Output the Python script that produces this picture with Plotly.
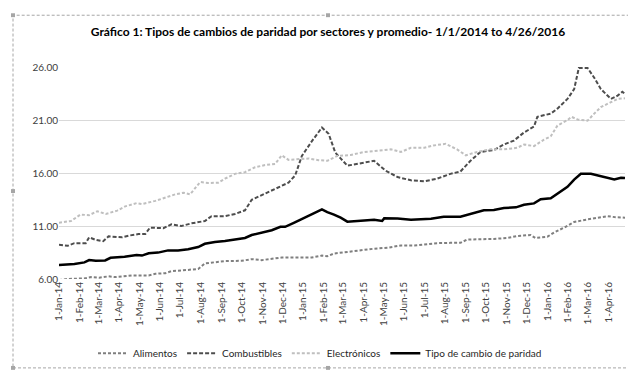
import pandas as pd
import plotly.graph_objects as go

# ---------------- data (days since 2014-01-01, values) ----------------
tipo_days = [0, 23, 38, 45, 55, 69, 77, 98, 116, 124, 134, 148, 163, 178, 193, 208, 218, 233, 248, 263,
             278, 288, 303, 318, 331, 338, 351, 366, 381, 393, 401, 411, 421, 431, 446, 471, 483, 486,
             506, 526, 556, 575, 600, 620, 635, 650, 665, 683, 695, 710, 720, 735, 745, 760, 770, 780,
             795, 815, 830, 840, 846]
tipo_vals = [7.32, 7.41, 7.57, 7.78, 7.72, 7.75, 8.0, 8.09, 8.27, 8.21, 8.43, 8.49, 8.70, 8.70, 8.80, 9.01,
             9.32, 9.50, 9.59, 9.72, 9.87, 10.15, 10.39, 10.6, 10.92, 10.92, 11.3, 11.78, 12.24, 12.57,
             12.3, 12.08, 11.78, 11.41, 11.47, 11.59, 11.47, 11.72, 11.71, 11.59, 11.68, 11.87, 11.87,
             12.24, 12.48, 12.51, 12.70, 12.76, 13.0, 13.13, 13.53, 13.62, 14.02, 14.69, 15.37, 15.92,
             15.92, 15.62, 15.4, 15.55, 15.52]

comb_days = [0, 13, 23, 40, 45, 55, 66, 74, 94, 104, 119, 129, 136, 156, 168, 183, 198, 218, 228, 248,
             263, 278, 288, 303, 323, 343, 353, 363, 378, 393, 403, 413, 431, 446, 471, 488, 506, 526,
             546, 565, 585, 600, 615, 630, 650, 665, 680, 695, 710, 715, 735, 745, 760, 770, 777, 790,
             800, 810, 825, 835, 842, 846]
comb_vals = [9.23, 9.13, 9.38, 9.38, 9.93, 9.69, 9.56, 10.02, 9.93, 10.09, 10.24, 10.24, 10.85, 10.79,
             11.16, 11.0, 11.25, 11.47, 11.93, 11.93, 12.14, 12.48, 13.47, 13.93, 14.48, 15.09, 15.77,
             17.61, 19.0, 20.29, 19.7, 17.92, 16.69, 16.85, 17.15, 16.23, 15.62, 15.31, 15.22, 15.46,
             15.92, 16.14, 17.15, 17.98, 18.17, 18.69, 19.06, 19.82, 20.38, 21.3, 21.6, 22.07, 22.99,
             23.91, 25.91, 25.91, 24.99, 23.91, 22.99, 23.3, 23.67, 23.45]

elec_days = [0, 18, 32, 45, 57, 70, 87, 99, 116, 124, 144, 159, 174, 186, 196, 211, 223, 238, 248, 263,
             278, 293, 308, 323, 333, 343, 358, 373, 388, 401, 416, 436, 456, 481, 496, 511, 526, 546,
             560, 578, 595, 608, 625, 645, 665, 685, 695, 710, 725, 735, 745, 760, 766, 775, 790, 800,
             810, 825, 835, 846]
elec_vals = [11.31, 11.47, 12.08, 12.02, 12.39, 12.14, 12.45, 12.85, 13.16, 13.07, 13.37, 13.71, 13.99,
             14.14, 13.99, 15.15, 15.06, 15.09, 15.46, 15.92, 16.08, 16.54, 16.75, 16.85, 17.67, 17.24,
             17.31, 17.37, 17.21, 17.15, 17.61, 17.7, 17.98, 18.17, 18.23, 17.98, 18.38, 18.38, 18.6,
             18.75, 18.23, 17.67, 17.98, 18.23, 18.23, 18.38, 18.69, 18.54, 19.15, 19.46, 20.47, 20.99,
             21.3, 21.05, 20.93, 21.6, 22.22, 22.68, 22.99, 23.05]

alim_days = [0, 13, 38, 48, 60, 74, 84, 109, 134, 144, 159, 168, 193, 208, 218, 238, 248, 273, 288, 303,
             318, 333, 363, 378, 393, 401, 411, 426, 446, 471, 491, 511, 531, 546, 565, 585, 600, 610,
             630, 650, 670, 685, 705, 712, 730, 740, 755, 770, 790, 805, 820, 830, 846]
alim_vals = [5.9, 6.0, 6.06, 6.18, 6.12, 6.25, 6.18, 6.34, 6.34, 6.49, 6.55, 6.74, 6.86, 6.95, 7.47, 7.57,
             7.69, 7.72, 7.87, 7.78, 7.94, 8.03, 8.03, 8.03, 8.21, 8.15, 8.40, 8.52, 8.70, 8.86, 8.95,
             9.16, 9.16, 9.26, 9.38, 9.41, 9.41, 9.72, 9.72, 9.78, 9.87, 10.06, 10.15, 9.87, 9.99, 10.39,
             10.85, 11.38, 11.62, 11.78, 11.93, 11.84, 11.78]

series_names = ["Alimentos", "Combustibles", "Electrónicos", "Tipo de cambio de paridad"]
y_ticks = [6, 11, 16, 21, 26]
start_date = "2014-01-01"
end_date = "2016-04-26"

title_text = "Gráfico 1: Tipos de cambios de paridad por sectores y promedio- 1/1/2014 to 4/26/2016"


def to_dates(days):
    return pd.Timestamp(start_date) + pd.to_timedelta(days, unit="D")


FONT = "Lato, sans-serif"

fig = go.Figure()
fig.add_trace(go.Scatter(x=to_dates(alim_days), y=alim_vals, name=series_names[0], mode="lines",
                         line=dict(color="#7f7f7f", width=2, dash="3px,2px")))
fig.add_trace(go.Scatter(x=to_dates(comb_days), y=comb_vals, name=series_names[1], mode="lines",
                         line=dict(color="#4d4d4d", width=2, dash="4px,2px")))
fig.add_trace(go.Scatter(x=to_dates(elec_days), y=elec_vals, name=series_names[2], mode="lines",
                         line=dict(color="#bfbfbf", width=2, dash="3px,2px")))
fig.add_trace(go.Scatter(x=to_dates(tipo_days), y=tipo_vals, name=series_names[3], mode="lines",
                         line=dict(color="#000000", width=2.5)))

W, H = 636, 372
L, R, T, B = 51, 19, 59, 96
pw, ph = W - L - R, H - T - B


def px(xp):
    return (xp - L) / pw


def py(yp):
    return (H - B - yp) / ph


shapes = [dict(type="rect", xref="paper", yref="paper", x0=px(5), x1=px(632), y0=py(367), y1=py(6),
               line=dict(color="#a6a6a6", width=1, dash="3px,2px"), fillcolor="rgba(0,0,0,0)", layer="below")]
for hx, hy in [(5, 6), (320, 6), (632, 6), (5, 186), (632, 186), (5, 367), (320, 367), (632, 367)]:
    shapes.append(dict(type="rect", xref="paper", yref="paper", x0=px(hx - 2), x1=px(hx + 2),
                       y0=py(hy + 2), y1=py(hy - 2), line=dict(width=0), fillcolor="#a6a6a6"))

fig.update_layout(
    width=W, height=H,
    margin=dict(l=L, r=R, t=T, b=B),
    paper_bgcolor="white", plot_bgcolor="white",
    title=dict(text="<b>" + title_text + "</b>", x=px(320), xref="paper", xanchor="center",
               y=1 - 24 / H, yanchor="middle", font=dict(family=FONT, size=12, color="#000000")),
    font=dict(family=FONT, size=10, color="#595959"),
    shapes=shapes,
    showlegend=True,
    legend=dict(orientation="h", x=px(312), xanchor="center", y=py(352), yanchor="middle",
                font=dict(family=FONT, size=10, color="#262626"), itemwidth=30,
                bgcolor="rgba(0,0,0,0)"),
    xaxis=dict(type="date", range=[start_date, end_date], tick0=start_date, dtick="M1",
               tickformat="%-d-%b-%y", tickangle=-90, showgrid=False, showline=False,
               ticks="", tickfont=dict(family=FONT, size=10, color="#404040")),
    yaxis=dict(range=[6, 26], tickvals=y_ticks, tickformat=".2f", showgrid=True,
               gridcolor="#d9d9d9", gridwidth=1, zeroline=False, showline=False, ticks="",
               tickfont=dict(family=FONT, size=10, color="#404040")),
)

fig.write_html("out.html")
